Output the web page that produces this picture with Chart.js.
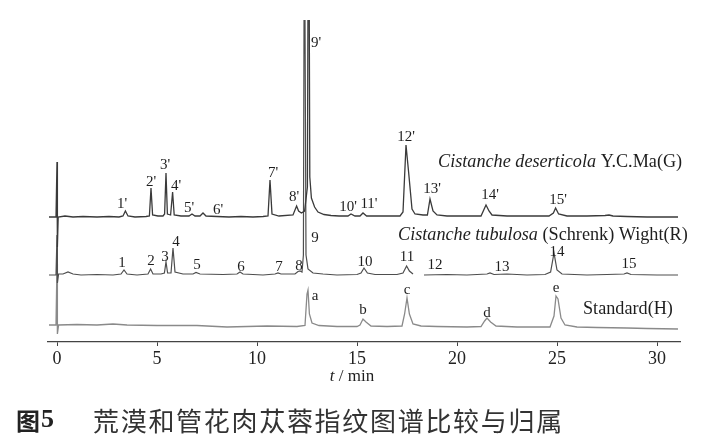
<!DOCTYPE html>
<html><head><meta charset="utf-8">
<script src="https://cdn.jsdelivr.net/npm/chart.js@4.4.1/dist/chart.umd.min.js"></script>
<style>
html,body{margin:0;padding:0;background:#fff;}
#wrap{position:relative;width:720px;height:440px;overflow:hidden;}
canvas{position:absolute;left:0;top:0;}
.cap{position:absolute;white-space:nowrap;color:#222;}
#capFig{left:16px;top:406px;font:bold 24px/28px "Noto Sans CJK SC";}
#capNum{left:41px;top:405px;font:bold 26px/28px "Liberation Serif";}
#capTxt{left:93px;top:406px;font:400 26px/28px "Noto Sans CJK SC";letter-spacing:1.7px;color:#333;}
</style></head><body>
<div id="wrap">
<canvas id="c" width="720" height="440"></canvas>
<span class="cap" id="capFig">图</span><span class="cap" id="capNum">5</span><span class="cap" id="capTxt">荒漠和管花肉苁蓉指纹图谱比较与归属</span>
</div>
<script>
// ---------- data (t in min, response above each trace's baseline) ----------
const timeG = [-0.4,-0.05,0,0.02,0.06,0.4,0.8,1.3,2,2.6,3.1,3.3,3.42,3.55,3.9,4.45,4.62,4.7,4.78,5.05,5.3,5.38,5.45,5.52,5.68,5.78,5.86,6.2,6.6,6.75,6.9,7.15,7.3,7.45,8.0,8.6,9.2,9.8,10.3,10.55,10.65,10.75,11.1,11.8,11.98,12.08,12.22,12.38,12.52,12.58,12.64,12.72,12.88,13.05,13.35,13.7,14.1,14.55,14.7,14.9,15.15,15.3,15.48,16.5,17.15,17.3,17.45,17.58,17.75,17.9,18.3,18.52,18.65,18.8,19.0,19.5,20.5,21.2,21.45,21.6,21.75,22.5,23.5,24.6,24.82,24.93,25.08,25.5,26.5,27.4,27.6,27.8,28.5,29.5,31.05];
const respG = [0,0,55,-30,0,1,0,0.5,0,0.5,0,1,6,1,0,0.5,1,29,2,1,1,3,44,3,2,25,2,1,1,3,1,1,4,1,0.5,0,0.5,0,0.5,1,37,3,1,2,11,6,4,6,30,400,40,19,10,5,2.5,1.5,1,1,3,1,1,4,1,1,1,5,72,45,8,3,2,2,18,6,2,1,1,1,12,6,2,1,1,1,4,9,3,1,1,1.5,2,1,0.5,0,0];

const timeR = [-0.4,-0.05,0,0.02,0.08,0.3,0.55,0.8,1.2,2,2.8,3.2,3.35,3.5,4.0,4.55,4.68,4.8,5.2,5.37,5.45,5.53,5.7,5.8,5.9,6.3,6.8,6.95,7.15,8.3,9.0,9.15,9.3,10.3,10.9,11.05,11.2,11.9,12.05,12.15,12.25,12.32,12.37,12.45,12.55,12.8,13.3,14,15.0,15.2,15.35,15.52,15.9,17.0,17.3,17.48,17.62,17.8,18.0,18.35,19.5,20.5,21.5,21.65,21.85,22.5,23.5,24.4,24.68,24.85,25.0,25.25,26.5,27.5,28.35,28.5,28.7,30,31.05];
const respR = [0,0,40,-8,1,1,3,1,0,0.5,0,1,5,1,0,1,6,1,1,2,13,2,2,27,3,1,1,2.5,1,0.5,1,3,1,0,1,2,1,1,3.5,4,3,20,400,20,6,2,1,0,0.5,2,7,2,0.5,0.5,2,9,4,1,null,0,0.5,0,1,2,0.5,1,0,0.5,3,22,5,1,0,0.5,1,2,0.5,0,0];

const timeH = [-0.4,-0.05,0,0.02,0.08,1,2,2.8,3.5,5,7,8.5,9.5,10.5,12.0,12.4,12.5,12.55,12.62,12.75,13.1,14,15,15.15,15.3,15.45,15.7,16.5,17.25,17.38,17.5,17.62,17.8,18.2,19,20.5,21.2,21.38,21.5,21.68,21.95,23,24.65,24.85,24.95,25.05,25.2,25.4,26,27,28.5,29.5,31.05];
const respH = [-1,-1,60,-10,-1,-0.5,-1,0,-1,-1.5,-1.5,-3,-2.5,-2,-2.5,-1.5,30,34,10,1,-1.5,-2.5,-2.5,-1,5,2,-2,-2.5,-2,10,26,10,0,-2,-2.5,-3,-2.5,3,6,2,-2,-3,-3,8,28,25,6,-1,-3,-3.5,-4,-4.5,-5];

const tickValues = [0,5,10,15,20,25,30];

// peak labels: [text, t, response level]
const labelsG = [["1'",3.25,13],["2'",4.7,35],["3'",5.4,52],["4'",5.95,31],["5'",6.6,9],["6'",8.05,7],["7'",10.8,44],["8'",11.85,20],["9'",12.95,174],["10'",14.55,10],["11'",15.6,13],["12'",17.45,80],["13'",18.75,28],["14'",21.65,22],["15'",25.05,17]];
const labelsR = [["1",3.25,12],["2",4.7,14],["3",5.4,18],["4",5.95,33],["5",7.0,10],["6",9.2,8],["7",11.1,8],["8",12.1,9],["9",12.9,37],["10",15.4,13],["11",17.5,18],["12",18.9,10],["13",22.25,8],["14",25.0,23],["15",28.6,11]];
const labelsH = [["a",12.9,28],["b",15.3,14],["c",17.5,34],["d",21.5,11],["e",24.95,36]];

// trace names: [italic part, upright part, t, level]
const nameG = ["Cistanche deserticola", " Y.C.Ma(G)", 19.05, 55];
const nameR = ["Cistanche tubulosa", " (Schrenk) Wight(R)", 17.05, 40];
const nameH = ["", "Standard(H)", 26.3, 15];

// vertical stacking of the three traces (layout)
const OFF = {G:125, R:67, H:18};

function pts(ts, vs, off){ return ts.map((t,i)=>({x:t, y: vs[i]===null?null:vs[i]+off})); }

const SERIF = '"Liberation Serif","Times New Roman",serif';
const NAME_PX = 18.2;

const annot = {
  id:'annot',
  afterDatasetsDraw(chart){
    const ctx = chart.ctx, xs = chart.scales.x, ys = chart.scales.y;
    ctx.save();
    ctx.fillStyle = '#1e1e1e';
    ctx.textAlign = 'center';
    ctx.textBaseline = 'middle';
    ctx.font = '15px ' + SERIF;
    const put = (arr, off) => arr.forEach(l => ctx.fillText(l[0], xs.getPixelForValue(l[1]), ys.getPixelForValue(l[2]+off)));
    put(labelsG, OFF.G); put(labelsR, OFF.R); put(labelsH, OFF.H);
    // trace names
    ctx.textAlign = 'left';
    const name = (n, off) => {
      let x = xs.getPixelForValue(n[2]); const y = ys.getPixelForValue(n[3]+off);
      if (n[0]) { ctx.font = 'italic ' + NAME_PX + 'px ' + SERIF; ctx.fillText(n[0], x, y); x += ctx.measureText(n[0]).width; }
      ctx.font = NAME_PX + 'px ' + SERIF; ctx.fillText(n[1], x, y);
    };
    name(nameG, OFF.G); name(nameR, OFF.R); name(nameH, OFF.H);
    // axis title
    ctx.font = 'italic 17px ' + SERIF;
    const a = 't', b = ' / min';
    const wa = ctx.measureText(a).width;
    ctx.font = '17px ' + SERIF;
    const wb = ctx.measureText(b).width;
    let x0 = 352 - (wa+wb)/2;
    ctx.font = 'italic 17px ' + SERIF; ctx.fillText(a, x0, 377);
    ctx.font = '17px ' + SERIF; ctx.fillText(b, x0+wa, 377);
    ctx.restore();
  }
};

new Chart(document.getElementById('c'), {
  type:'scatter',
  data:{ datasets:[
    {label:'G', data:pts(timeG,respG,OFF.G), showLine:true, borderColor:'#3a3a3a', borderWidth:1.3, pointRadius:0, spanGaps:false},
    {label:'R', data:pts(timeR,respR,OFF.R), showLine:true, borderColor:'#4e4e4e', borderWidth:1.2, pointRadius:0, spanGaps:false},
    {label:'H', data:pts(timeH,respH,OFF.H), showLine:true, borderColor:'#8a8a8a', borderWidth:1.3, pointRadius:0, spanGaps:false}
  ]},
  options:{
    responsive:false, animation:false, devicePixelRatio:1,
    layout:{padding:{left:48,right:40,top:20,bottom:0}},
    plugins:{legend:{display:false}, tooltip:{enabled:false}},
    scales:{
      x:{type:'linear', position:'bottom', min:-0.45, max:31.15,
        afterBuildTicks:s=>{ s.ticks = tickValues.map(v=>({value:v})); },
        afterFit:s=>{ s.height = 98; },
        grid:{display:true, drawOnChartArea:false, drawTicks:true, tickLength:4, color:'#444', lineWidth:1},
        border:{display:true, color:'#444', width:1.3},
        ticks:{font:{family:SERIF, size:18}, color:'#222', padding:2, maxRotation:0, autoSkip:false}
      },
      y:{display:false, min:0, max:322}
    }
  },
  plugins:[annot]
});
</script>
</body></html>
